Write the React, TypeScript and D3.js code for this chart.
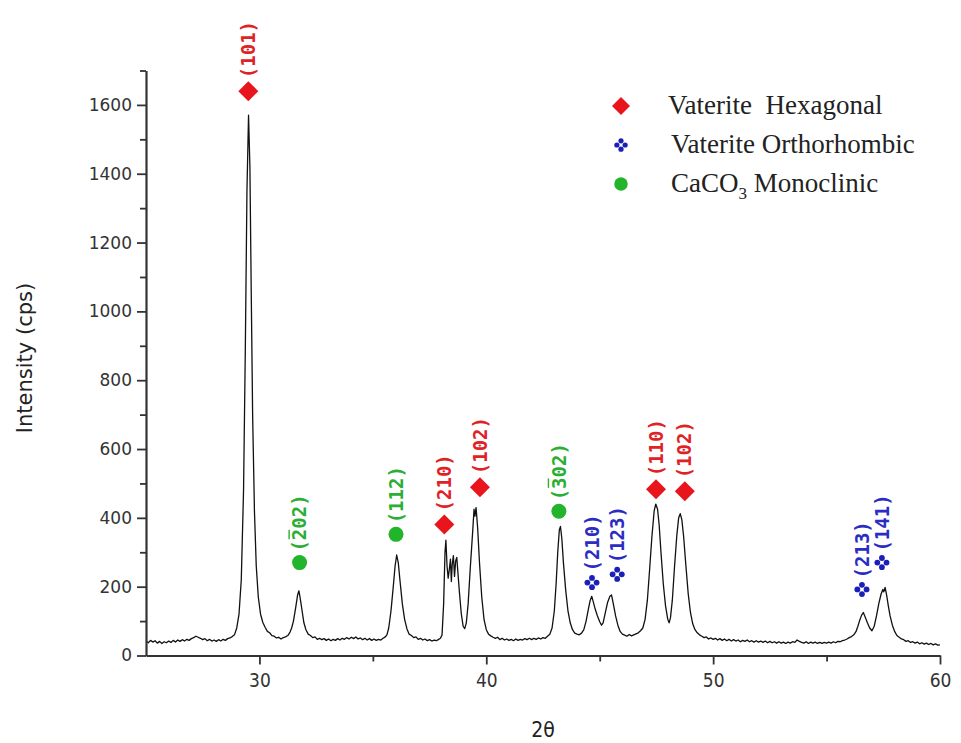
import { useEffect, useRef } from "react";
import * as d3 from "d3";

// XRD scan: [2θ, intensity (cps)]
const xrdScan: [number, number][] = [
  [25.0, 42], [25.1, 37], [25.2, 44], [25.3, 39], [25.4, 43], [25.5, 36], [25.6, 41], [25.7, 35],
  [25.8, 40], [25.9, 37], [26.0, 42], [26.1, 38], [26.2, 44], [26.3, 39], [26.4, 45], [26.5, 41],
  [26.6, 46], [26.7, 42], [26.8, 47], [26.9, 44], [27.0, 49], [27.1, 52], [27.2, 56], [27.3, 53],
  [27.4, 50], [27.5, 46], [27.6, 49], [27.7, 43], [27.8, 47], [27.9, 42], [28.0, 45], [28.1, 41],
  [28.2, 46], [28.3, 42], [28.4, 47], [28.5, 44], [28.6, 49], [28.7, 51], [28.8, 55], [28.9, 60],
  [29.0, 80], [29.1, 120], [29.2, 220], [29.3, 480], [29.38, 900], [29.45, 1350], [29.52, 1570],
  [29.58, 1420], [29.64, 1050], [29.7, 700], [29.78, 420], [29.86, 260], [29.95, 170],
  [30.05, 120], [30.15, 96], [30.25, 82], [30.35, 70], [30.45, 66], [30.55, 58], [30.65, 56],
  [30.75, 51], [30.85, 53], [30.95, 48], [31.05, 52], [31.15, 54], [31.25, 58], [31.35, 68],
  [31.42, 80], [31.5, 100], [31.6, 140], [31.68, 175], [31.74, 188], [31.8, 165], [31.88, 130],
  [31.96, 95], [32.05, 75], [32.15, 62], [32.25, 58], [32.35, 52], [32.45, 54], [32.55, 47],
  [32.65, 50], [32.75, 46], [32.85, 49], [32.95, 44], [33.05, 48], [33.15, 43], [33.25, 47],
  [33.35, 44], [33.45, 49], [33.55, 45], [33.65, 50], [33.75, 47], [33.85, 52], [33.95, 48],
  [34.05, 53], [34.15, 49], [34.25, 54], [34.35, 48], [34.45, 51], [34.55, 46], [34.65, 50],
  [34.75, 45], [34.85, 49], [34.95, 44], [35.05, 48], [35.15, 44], [35.25, 47], [35.35, 45],
  [35.45, 50], [35.55, 54], [35.62, 60], [35.7, 80], [35.8, 130], [35.9, 200], [35.98, 260],
  [36.05, 292], [36.12, 270], [36.2, 215], [36.3, 150], [36.4, 105], [36.5, 78], [36.6, 62],
  [36.7, 58], [36.8, 52], [36.9, 54], [37.0, 47], [37.1, 50], [37.2, 45], [37.3, 48], [37.4, 43],
  [37.5, 46], [37.6, 42], [37.7, 45], [37.8, 43], [37.9, 47], [37.98, 50], [38.05, 60],
  [38.12, 150], [38.18, 300], [38.22, 335], [38.27, 260], [38.32, 225], [38.37, 250],
  [38.42, 280], [38.46, 215], [38.5, 265], [38.55, 290], [38.6, 230], [38.65, 275],
  [38.7, 285], [38.75, 240], [38.82, 180], [38.9, 120], [38.98, 85], [39.05, 78], [39.12, 95],
  [39.2, 150], [39.3, 260], [39.4, 360], [39.46, 425], [39.5, 405], [39.55, 430], [39.62, 370],
  [39.7, 270], [39.8, 170], [39.9, 105], [40.0, 75], [40.1, 62], [40.2, 57], [40.3, 53],
  [40.4, 50], [40.5, 53], [40.6, 46], [40.7, 50], [40.8, 45], [40.9, 48], [41.0, 44], [41.1, 47],
  [41.2, 43], [41.3, 48], [41.4, 44], [41.5, 47], [41.6, 45], [41.7, 49], [41.8, 46], [41.9, 50],
  [42.0, 46], [42.1, 50], [42.2, 47], [42.3, 51], [42.4, 48], [42.5, 52], [42.6, 50],
  [42.7, 56], [42.8, 62], [42.9, 80], [43.0, 130], [43.08, 210], [43.15, 300], [43.22, 365],
  [43.27, 375], [43.33, 340], [43.4, 270], [43.5, 190], [43.6, 130], [43.7, 95], [43.8, 75],
  [43.9, 65], [44.0, 62], [44.1, 60], [44.2, 65], [44.3, 75], [44.4, 100], [44.5, 135],
  [44.58, 160], [44.65, 172], [44.72, 155], [44.8, 135], [44.9, 115], [45.0, 98], [45.08, 88],
  [45.15, 95], [45.25, 125], [45.35, 155], [45.45, 172], [45.52, 176], [45.6, 150], [45.7, 115],
  [45.8, 88], [45.9, 70], [46.0, 62], [46.1, 59], [46.2, 56], [46.3, 61], [46.4, 57], [46.5, 60],
  [46.6, 63], [46.7, 66], [46.8, 72], [46.9, 80], [47.0, 105], [47.1, 160], [47.2, 250],
  [47.3, 345], [47.4, 420], [47.47, 440], [47.55, 425], [47.62, 380], [47.7, 300], [47.8, 210],
  [47.9, 145], [48.0, 105], [48.06, 95], [48.12, 110], [48.2, 160], [48.3, 260], [48.4, 350],
  [48.48, 400], [48.55, 412], [48.62, 395], [48.7, 345], [48.8, 260], [48.9, 180], [49.0, 125],
  [49.1, 92], [49.2, 75], [49.3, 66], [49.4, 60], [49.5, 56], [49.6, 52], [49.7, 54], [49.8, 48],
  [49.9, 51], [50.0, 47], [50.1, 50], [50.2, 45], [50.3, 49], [50.4, 44], [50.5, 48], [50.6, 43],
  [50.7, 47], [50.8, 42], [50.9, 46], [51.0, 42], [51.1, 45], [51.2, 40], [51.3, 44], [51.4, 41],
  [51.5, 45], [51.6, 40], [51.7, 43], [51.8, 39], [51.9, 43], [52.0, 39], [52.1, 42], [52.2, 38],
  [52.3, 42], [52.4, 37], [52.5, 41], [52.6, 37], [52.7, 40], [52.8, 36], [52.9, 40], [53.0, 36],
  [53.1, 39], [53.2, 35], [53.3, 39], [53.4, 36], [53.5, 40], [53.6, 38], [53.7, 45], [53.8, 41],
  [53.9, 38], [54.0, 36], [54.1, 40], [54.2, 35], [54.3, 39], [54.4, 36], [54.5, 39], [54.6, 35],
  [54.7, 38], [54.8, 35], [54.9, 38], [55.0, 36], [55.1, 39], [55.2, 36], [55.3, 40], [55.4, 37],
  [55.5, 41], [55.6, 40], [55.7, 43], [55.8, 45], [55.9, 48], [56.0, 52], [56.1, 55],
  [56.2, 60], [56.3, 70], [56.38, 85], [56.45, 100], [56.55, 118], [56.62, 125], [56.7, 112],
  [56.8, 95], [56.9, 80], [57.0, 72], [57.1, 85], [57.2, 115], [57.3, 150], [57.4, 178],
  [57.48, 192], [57.52, 185], [57.58, 198], [57.65, 175], [57.72, 145], [57.8, 115], [57.9, 88],
  [58.0, 70], [58.1, 58], [58.2, 53], [58.3, 48], [58.4, 46], [58.5, 41], [58.6, 43], [58.7, 38],
  [58.8, 40], [58.9, 36], [59.0, 39], [59.1, 34], [59.2, 37], [59.3, 33], [59.4, 36], [59.5, 32],
  [59.6, 35], [59.7, 31], [59.8, 34], [59.9, 30], [60.0, 31],
];

// peak annotations: marker position in data units, Miller index, phase
// bar = index of the digit carrying an overline (-1: none)
const peakMarks = [
  { hkl: "(101)", x: 29.51, y: 1640, phase: "hex", bar: -1 },
  { hkl: "(202)", x: 31.77, y: 270, phase: "mono", bar: 1 },
  { hkl: "(112)", x: 36.02, y: 352, phase: "mono", bar: -1 },
  { hkl: "(210)", x: 38.15, y: 381, phase: "hex", bar: -1 },
  { hkl: "(102)", x: 39.72, y: 489, phase: "hex", bar: -1 },
  { hkl: "(302)", x: 43.2, y: 419, phase: "mono", bar: 1 },
  { hkl: "(210)", x: 44.66, y: 212, phase: "orth", bar: -1 },
  { hkl: "(123)", x: 45.77, y: 236, phase: "orth", bar: -1 },
  { hkl: "(110)", x: 47.48, y: 483, phase: "hex", bar: -1 },
  { hkl: "(102)", x: 48.75, y: 477, phase: "hex", bar: -1 },
  { hkl: "(213)", x: 56.56, y: 192, phase: "orth", bar: -1 },
  { hkl: "(141)", x: 57.44, y: 270, phase: "orth", bar: -1 },
];

const legendItems = [
  { phase: "hex", label: "Vaterite  Hexagonal" },
  { phase: "orth", label: "Vaterite Orthorhombic" },
  { phase: "mono", label: "CaCO|3| Monoclinic" },
];

const xMajorTicks = [30, 40, 50, 60];
const xMinorTicks = [35, 45, 55];
const yMajorTicks = [0, 200, 400, 600, 800, 1000, 1200, 1400, 1600];
const yMinorTicks = [100, 300, 500, 700, 900, 1100, 1300, 1500, 1700];

const phaseColor: Record<string, string> = {
  hex: "#e8151d",
  orth: "#1b1fb8",
  mono: "#22b52c",
};
const labelColor: Record<string, string> = {
  hex: "#df2226",
  orth: "#2a2cc4",
  mono: "#2aae34",
};

const W = 961;
const H = 743;
const margin = { left: 146, right: 21, top: 70.5, bottom: 87.5 };

function drawMarker(g: any, phase: string, cx: number, cy: number, s: number) {
  const c = phaseColor[phase];
  if (phase === "hex") {
    const r = 10 * s;
    g.append("path")
      .attr("d", `M${cx},${cy - r}L${cx + r},${cy}L${cx},${cy + r}L${cx - r},${cy}Z`)
      .attr("fill", c);
  } else if (phase === "mono") {
    g.append("circle").attr("cx", cx).attr("cy", cy).attr("r", 7.5 * s).attr("fill", c);
  } else {
    const o = 4.6 * s;
    [[0, -o], [o, 0], [0, o], [-o, 0]].forEach(([dx, dy]) => {
      g.append("circle")
        .attr("cx", cx + dx)
        .attr("cy", cy + dy)
        .attr("r", 2.9 * s)
        .attr("fill", c);
    });
  }
}

export default function App() {
  const svgRef = useRef<SVGSVGElement>(null);

  useEffect(() => {
    if (!svgRef.current) return;
    const svg = d3.select(svgRef.current);
    svg.selectAll("*").remove();

    const x = d3.scaleLinear().domain([25, 60]).range([margin.left, W - margin.right]);
    const y = d3.scaleLinear().domain([0, 1700]).range([H - margin.bottom, margin.top]);

    svg.append("rect").attr("width", W).attr("height", H).attr("fill", "#fff");

    // scan
    const line = d3
      .line<[number, number]>()
      .x((d) => x(d[0]))
      .y((d) => y(d[1]));
    svg
      .append("path")
      .datum(xrdScan)
      .attr("d", line)
      .attr("fill", "none")
      .attr("stroke", "#111")
      .attr("stroke-width", 1.3)
      .attr("stroke-linejoin", "round");

    // axes
    const axisColor = "#333";
    const xAxis = svg.append("g").attr("transform", `translate(0,${y(0)})`);
    xAxis.call(d3.axisBottom(x).tickValues(xMajorTicks).tickSize(9).tickSizeOuter(0).tickPadding(9));
    xAxis
      .append("g")
      .call(d3.axisBottom(x).tickValues(xMinorTicks).tickSize(6).tickFormat(() => ""))
      .select(".domain")
      .remove();
    xAxis.selectAll("text")
      .attr("font-family", "'DejaVu Sans Condensed', 'Liberation Sans Narrow', 'DejaVu Sans', sans-serif")
      .style("font-stretch", "condensed")
      .attr("font-size", 19)
      .attr("fill", "#333");

    const yAxis = svg.append("g").attr("transform", `translate(${x(25)},0)`);
    yAxis.call(d3.axisLeft(y).tickValues(yMajorTicks).tickSize(9).tickSizeOuter(0).tickPadding(5).tickFormat(d3.format("d")));
    yAxis
      .append("g")
      .call(d3.axisLeft(y).tickValues(yMinorTicks).tickSize(6).tickFormat(() => ""))
      .select(".domain")
      .remove();
    yAxis.selectAll("text")
      .attr("font-family", "'DejaVu Sans', sans-serif")
      .attr("font-size", 17)
      .attr("fill", "#333");

    svg.selectAll(".domain").attr("stroke", axisColor).attr("stroke-width", 2.2);
    svg.selectAll(".tick line").attr("stroke", axisColor).attr("stroke-width", 1.8);

    // axis titles
    svg
      .append("text")
      .attr("transform", `translate(32,358) rotate(-90)`)
      .attr("text-anchor", "middle")
      .attr("font-family", "'DejaVu Sans', sans-serif")
      .attr("font-size", 21)
      .attr("fill", "#222")
      .text("Intensity (cps)");
    svg
      .append("text")
      .attr("x", (x(25) + x(60)) / 2)
      .attr("y", 737)
      .attr("text-anchor", "middle")
      .attr("font-family", "'DejaVu Sans Condensed', 'DejaVu Sans', sans-serif")
      .style("font-stretch", "condensed")
      .attr("font-size", 21)
      .attr("fill", "#222")
      .text("2θ");

    // peak markers + Miller indices
    const fs = 19;
    const cw = fs * 0.602;
    peakMarks.forEach((p) => {
      const cx = x(p.x);
      const cy = y(p.y);
      const g = svg.append("g");
      drawMarker(g, p.phase, cx, cy, 1);
      const gap = p.phase === "hex" ? 13 : 11;
      const tg = g.append("g").attr("transform", `translate(${cx},${cy - gap}) rotate(-90)`);
      tg.append("text")
        .attr("x", 0)
        .attr("y", 0)
        .attr("dy", "0.35em")
        .attr("font-family", "'DejaVu Sans Mono', monospace")
        .attr("font-weight", "bold")
        .attr("font-size", fs)
        .attr("fill", labelColor[p.phase])
        .text(p.hkl);
      if (p.bar >= 0) {
        tg.append("line")
          .attr("x1", p.bar * cw + 1)
          .attr("x2", (p.bar + 1) * cw - 1)
          .attr("y1", -fs * 0.55)
          .attr("y2", -fs * 0.55)
          .attr("stroke", labelColor[p.phase])
          .attr("stroke-width", 1.4);
      }
    });

    // legend
    const lg = svg.append("g");
    legendItems.forEach((item, i) => {
      const sy = 106 + i * 39;
      drawMarker(lg, item.phase, 621, sy, 0.9);
      const t = lg
        .append("text")
        .attr("x", 668 + (i > 0 ? 3 : 0))
        .attr("y", sy + 8)
        .attr("font-family", "'Liberation Serif', 'Times New Roman', serif")
        .attr("font-size", 27)
        .attr("fill", "#222")
        .style("white-space", "pre");
      const parts = item.label.split("|");
      parts.forEach((part, k) => {
        if (k === 1) {
          t.append("tspan").attr("font-size", 17).attr("dy", 7).text(part);
        } else if (k === 2) {
          t.append("tspan").attr("dy", -7).text(part);
        } else {
          t.append("tspan").text(part);
        }
      });
    });
  }, []);

  return (
    <svg
      ref={svgRef}
      width={W}
      height={H}
      style={{ position: "absolute", left: 0, top: 0, display: "block" }}
    />
  );
}
